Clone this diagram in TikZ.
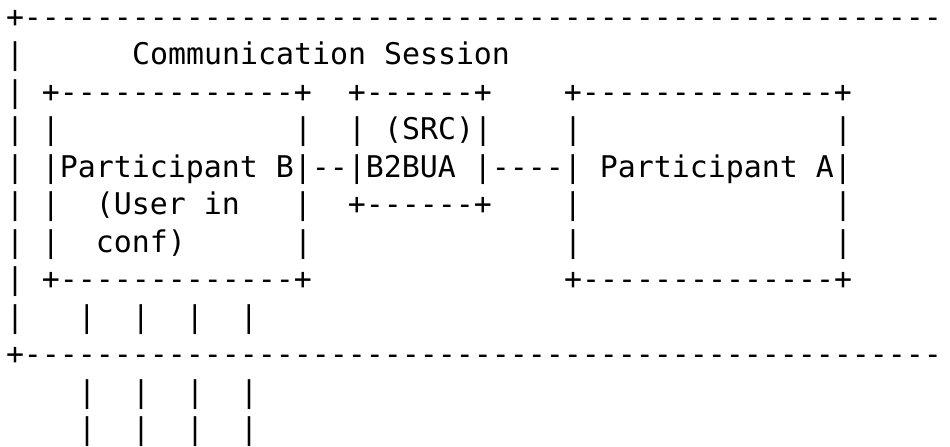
\documentclass[tikz,border=0pt]{standalone}
\usepackage{fontspec}
\setmonofont{DejaVu Sans Mono}
\usepackage{tikz}

\begin{document}
\begin{tikzpicture}[x=9pt, y=-18.75pt,
		asc/.style={anchor=base west, inner sep=0pt, outer sep=0pt, font=\ttfamily\fontsize{14.95}{18}\selectfont}]
	\useasboundingbox (-3pt,13.5pt) rectangle (472pt,-209.5pt);
	
	\node[asc] (l1) at (0,0) {+---------------------------------------------------};
	\node[asc] (l2) at (0,1) {|~~~~~~Communication~Session};
	\node[asc] (l3) at (0,2) {|~+-------------+~~+------+~~~~+--------------+};
	\node[asc] (l4) at (0,3) {|~|~~~~~~~~~~~~~|~~|~(SRC)|~~~~|~~~~~~~~~~~~~~|};
	\node[asc] (l5) at (0,4) {|~|Participant~B|--|B2BUA~|----|~Participant~A|};
	\node[asc] (l6) at (0,5) {|~|~~(User~in~~~|~~+------+~~~~|~~~~~~~~~~~~~~|};
	\node[asc] (l7) at (0,6) {|~|~~conf)~~~~~~|~~~~~~~~~~~~~~|~~~~~~~~~~~~~~|};
	\node[asc] (l8) at (0,7) {|~+-------------+~~~~~~~~~~~~~~+--------------+};
	\node[asc] (l9) at (0,8) {|~~~|~~|~~|~~|};
	\node[asc] (l10) at (0,9) {+---------------------------------------------------};
	\node[asc] (l11) at (0,10) {~~~~|~~|~~|~~|};
	\node[asc] (l12) at (0,11) {~~~~|~~|~~|~~|};
\end{tikzpicture}
\end{document}
